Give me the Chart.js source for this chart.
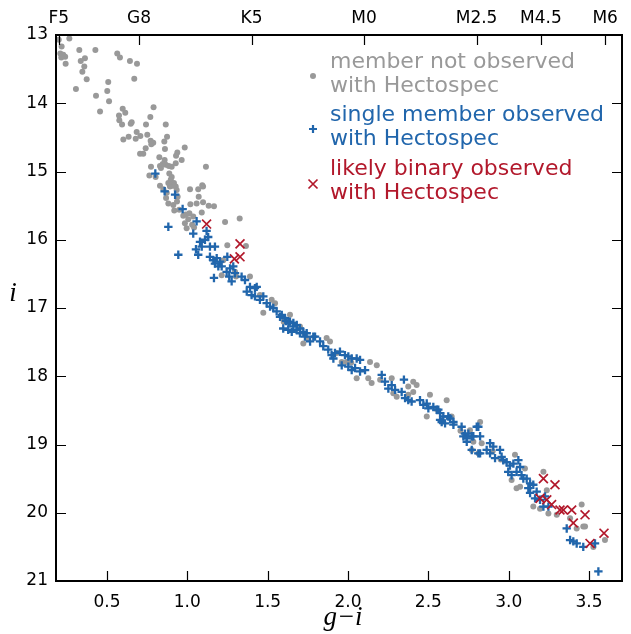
<!DOCTYPE html>
<html lang="en">
  <head>
    <meta charset="UTF-8" />
    <title>Colour-magnitude diagram</title>
    <script src="https://cdn.jsdelivr.net/npm/chart.js"></script>
    <style>
      body { margin: 0; background: #fff; }
      #wrap { width: 631px; height: 634px; }
    </style>
  </head>
  <body>
    <div id="wrap">
      <canvas id="cmd" width="631" height="634"></canvas>
    </div>
  </body>
</html>
<script>
  // axis ticks
  const giTicks = [0.5, 1.0, 1.5, 2.0, 2.5, 3.0, 3.5]
  const iTicks = [13, 14, 15, 16, 17, 18, 19, 20, 21]
  const spTypes = ["F5", "G8", "K5", "M0", "M2.5", "M4.5", "M6"]
  const spGI = [0.20, 0.70, 1.40, 2.10, 2.80, 3.20, 3.60]

  // members not observed (grey dots)
  const greyGI = [0.218,0.266,0.200,0.210,0.228,0.240,0.216,0.243,0.328,0.363,0.337,0.359,0.347,0.374,0.428,0.307,0.432,0.457,
    0.564,0.581,0.643,0.687,0.670,0.508,0.502,0.513,0.790,0.598,0.614,0.575,0.577,0.594,0.654,0.648,0.770,0.743,0.866,
    0.685,0.708,0.679,0.635,0.602,0.751,0.772,0.788,0.776,0.874,0.857,0.861,0.706,0.726,0.741,0.984,0.938,0.930,0.965,
    0.928,0.826,0.859,0.847,0.866,0.885,0.830,0.903,0.774,0.764,0.803,0.836,1.116,0.888,0.903,0.897,0.917,0.907,0.928,
    0.934,0.892,0.882,0.830,0.851,0.872,0.868,0.882,0.913,0.936,0.940,0.919,0.950,1.017,1.068,1.093,1.098,1.019,1.071,
    1.058,1.098,1.133,1.166,0.990,1.013,1.006,1.037,1.090,0.975,1.235,1.326,0.985,1.030,1.042,0.996,1.249,1.365,1.214,
    1.303,1.224,1.297,1.390,1.452,1.525,1.473,1.546,1.867,1.639,1.701,1.722,1.888,1.961,1.992,2.137,2.179,2.054,2.126,
    2.147,2.272,2.375,2.406,2.427,2.406,2.375,2.282,2.303,2.510,2.614,2.490,2.759,2.780,2.822,2.645,2.832,2.770,2.811,
    3.039,3.101,3.018,3.049,3.071,3.216,3.237,3.153,3.195,3.247,3.299,3.454,3.464,3.475,3.382,3.423,3.527,3.599,
    1.600,1.750,1.930,2.020,2.200,2.550,2.700,2.900,2.950]
  const greyI = [13.17,13.05,13.07,13.27,13.29,13.32,13.33,13.42,13.22,13.34,13.38,13.46,13.54,13.65,13.22,13.79,13.89,14.12,
    13.27,13.33,13.38,13.42,13.64,13.69,13.82,13.97,14.06,14.08,14.14,14.18,14.25,14.31,14.28,14.30,14.20,14.31,14.31,
    14.42,14.48,14.52,14.49,14.53,14.46,14.55,14.58,14.60,14.49,14.56,14.67,14.74,14.74,14.66,14.65,14.72,14.77,14.83,
    14.88,14.79,14.83,14.89,14.90,14.92,14.92,14.93,14.93,15.06,15.08,14.95,14.93,15.03,15.08,15.12,15.17,15.21,15.22,
    15.27,15.22,15.17,15.21,15.26,15.31,15.39,15.47,15.49,15.44,15.37,15.57,15.56,15.26,15.26,15.20,15.22,15.48,15.37,
    15.47,15.45,15.50,15.51,15.63,15.61,15.70,15.66,15.60,15.65,15.74,15.69,15.76,15.78,15.82,15.83,16.08,16.09,16.52,
    16.54,16.30,16.47,16.54,16.81,16.88,17.07,16.93,17.44,17.10,17.27,17.52,17.49,17.79,17.79,17.79,17.84,18.03,18.03,
    18.10,18.03,18.15,18.08,18.13,18.23,18.27,18.25,18.30,18.27,18.35,18.59,18.79,18.96,18.67,18.59,18.98,19.08,19.13,
    19.15,19.35,19.52,19.64,19.62,19.40,19.67,19.91,19.94,20.01,20.03,19.88,20.20,20.20,20.08,20.23,20.50,20.40,
    17.20,17.45,17.66,17.80,18.05,18.48,18.80,19.10,19.22]

  // single members observed (blue plus)
  const singleGI = [0.801,0.859,0.924,0.971,1.058,0.882,1.037,1.120,1.130,1.110,1.079,1.054,0.944,1.068,1.090,1.141,1.172,
    1.141,1.162,1.183,1.204,1.172,1.193,1.214,1.249,1.266,1.245,1.286,1.166,1.261,1.297,1.276,1.338,1.359,1.390,1.421,
    1.432,1.370,1.400,1.421,1.452,1.473,1.494,1.515,1.535,1.556,1.577,1.608,1.639,1.660,1.681,1.701,1.722,1.743,1.784,
    1.597,1.628,1.588,1.615,1.629,1.660,1.681,1.650,1.701,1.732,1.764,1.795,1.826,1.846,1.877,1.898,1.919,1.950,1.981,
    2.002,2.023,2.054,2.075,1.909,1.961,2.002,2.023,2.044,2.106,2.075,2.210,2.230,2.251,2.272,2.293,2.334,2.355,2.375,
    2.396,2.348,2.448,2.469,2.490,2.500,2.531,2.552,2.573,2.593,2.583,2.635,2.656,2.707,2.728,2.739,2.770,2.801,2.770,
    2.811,2.562,2.604,2.624,2.573,2.656,2.718,2.749,2.780,2.739,2.822,2.811,2.822,2.863,2.884,2.904,2.884,2.915,2.946,
    2.956,2.966,2.987,3.008,3.029,3.060,3.071,2.997,3.018,3.049,3.080,3.091,3.112,3.133,3.122,3.153,3.133,3.174,3.164,
    3.195,3.226,3.216,3.247,3.361,3.382,3.402,3.423,3.464,3.537,3.558]
  const singleI = [15.03,15.29,15.34,15.55,15.73,15.81,15.91,15.87,15.96,16.00,16.03,16.14,16.22,16.22,16.10,16.10,16.10,
    16.25,16.30,16.27,16.32,16.35,16.39,16.39,16.25,16.42,16.47,16.39,16.56,16.54,16.49,16.61,16.54,16.59,16.69,16.71,
    16.69,16.76,16.81,16.83,16.88,16.83,16.93,16.98,17.00,17.05,17.13,17.15,17.20,17.22,17.25,17.30,17.35,17.37,17.42,
    17.30,17.32,17.10,17.19,17.22,17.27,17.32,17.35,17.37,17.42,17.49,17.42,17.49,17.56,17.61,17.69,17.66,17.64,17.69,
    17.71,17.74,17.74,17.76,17.74,17.84,17.86,17.91,17.88,17.91,17.93,17.98,18.08,18.18,18.13,18.20,18.23,18.32,18.35,
    18.37,18.05,18.35,18.42,18.40,18.47,18.45,18.49,18.54,18.59,18.67,18.62,18.67,18.74,18.84,18.91,18.88,18.74,19.08,
    19.13,18.49,18.69,18.59,18.64,18.71,18.88,18.84,18.88,18.96,18.88,18.74,19.13,19.08,18.98,19.03,19.13,19.20,19.08,
    19.18,19.23,19.26,19.31,19.28,19.23,19.33,19.40,19.45,19.40,19.45,19.50,19.50,19.57,19.64,19.59,19.71,19.69,19.79,
    19.81,19.76,19.91,19.91,20.23,20.40,20.42,20.45,20.50,20.45,20.86]

  // likely binaries (red x)
  const binaryGI = [1.120,1.328,1.328,1.293,3.216,3.288,3.195,3.237,3.267,3.319,3.340,3.392,3.402,3.475,3.506,3.593]
  const binaryI = [15.77,16.06,16.25,16.28,19.50,19.59,19.79,19.81,19.88,19.96,19.96,19.96,20.15,20.03,20.45,20.30]

  const cinza = "#999999"
  const azul = "#2166ac"
  const vermelho = "#b2182b"
  const fonte = "'DejaVu Sans', sans-serif"

  function pares(xs, ys) {
    return xs.map((x, k) => ({ x: x, y: ys[k] }))
  }

  // frame + inward ticks, like matplotlib
  const moldura = {
    id: "moldura",
    afterDraw(chart) {
      const ctx = chart.ctx
      const a = chart.chartArea
      const sx = chart.scales.x
      const sy = chart.scales.y
      ctx.save()
      ctx.strokeStyle = "#000"
      ctx.lineWidth = 1.2
      ctx.beginPath()
      giTicks.forEach((v) => {
        const p = Math.round(sx.getPixelForValue(v)) + 0.5
        ctx.moveTo(p, a.bottom); ctx.lineTo(p, a.bottom - 10)
      })
      spGI.forEach((v) => {
        const p = Math.round(sx.getPixelForValue(v)) + 0.5
        ctx.moveTo(p, a.top); ctx.lineTo(p, a.top + 10)
      })
      iTicks.forEach((v) => {
        const p = Math.round(sy.getPixelForValue(v)) + 0.5
        ctx.moveTo(a.left, p); ctx.lineTo(a.left + 10, p)
        ctx.moveTo(a.right, p); ctx.lineTo(a.right - 10, p)
      })
      ctx.stroke()
      ctx.lineWidth = 2
      ctx.strokeRect(a.left, a.top, a.right - a.left, a.bottom - a.top)

      // axis labels
      ctx.fillStyle = "#000"
      ctx.font = "italic 27px 'Liberation Serif', serif"
      ctx.textAlign = "center"
      ctx.textBaseline = "alphabetic"
      ctx.fillText("g\u2212i", (a.left + a.right) / 2 + 4, 625)
      ctx.fillText("i", a.left - 43, (a.top + a.bottom) / 2 - 7)

      // legend
      const lx = a.left + 257
      ctx.font = "22px " + fonte
      ctx.textAlign = "left"
      const linhas = [
        ["member not observed", "with Hectospec", cinza, 68],
        ["single member observed", "with Hectospec", azul, 121],
        ["likely binary observed", "with Hectospec", vermelho, 175],
      ]
      linhas.forEach((l) => {
        ctx.fillStyle = l[2]
        ctx.fillText(l[0], lx + 17, l[3])
        ctx.fillText(l[1], lx + 17, l[3] + 24)
      })
      // legend markers
      ctx.fillStyle = cinza
      ctx.beginPath()
      ctx.arc(lx, 76, 3, 0, Math.PI * 2)
      ctx.fill()
      ctx.strokeStyle = azul
      ctx.lineWidth = 2.2
      ctx.beginPath()
      ctx.moveTo(lx - 4, 129); ctx.lineTo(lx + 4, 129)
      ctx.moveTo(lx, 125); ctx.lineTo(lx, 133)
      ctx.stroke()
      ctx.strokeStyle = vermelho
      ctx.lineWidth = 1.7
      ctx.beginPath()
      ctx.moveTo(lx - 4.5, 179.5); ctx.lineTo(lx + 4.5, 188.5)
      ctx.moveTo(lx - 4.5, 188.5); ctx.lineTo(lx + 4.5, 179.5)
      ctx.stroke()
      ctx.restore()
    },
  }

  const grafico = document.getElementById("cmd")
  let diagrama = new Chart(grafico, {
    type: "scatter",
    data: {
      datasets: [
        {
          label: "member not observed with Hectospec",
          data: pares(greyGI, greyI),
          pointStyle: "circle",
          pointRadius: 3,
          pointBorderWidth: 0,
          backgroundColor: cinza,
          borderColor: cinza,
          order: 2,
        },
        {
          label: "single member observed with Hectospec",
          data: pares(singleGI, singleI),
          pointStyle: "cross",
          pointRadius: 4.2,
          pointBorderWidth: 2.3,
          borderColor: azul,
          backgroundColor: azul,
          order: 1,
        },
        {
          label: "likely binary observed with Hectospec",
          data: pares(binaryGI, binaryI),
          pointStyle: "crossRot",
          pointRadius: 6.3,
          pointBorderWidth: 1.7,
          borderColor: vermelho,
          backgroundColor: vermelho,
          order: 0,
        },
      ],
    },
    options: {
      responsive: false,
      animation: false,
      devicePixelRatio: 1,
      layout: { padding: { top: 0, right: 9, bottom: 0, left: 0 } },
      plugins: {
        legend: { display: false },
        tooltip: { enabled: false },
      },
      scales: {
        x: {
          type: "linear",
          position: "bottom",
          min: 0.183,
          max: 3.705,
          afterBuildTicks: (s) => { s.ticks = giTicks.map((v) => ({ value: v })) },
          afterFit: (s) => { s.height = 53 },
          grid: { drawOnChartArea: false, drawTicks: false },
          border: { display: false },
          ticks: {
            color: "#000",
            font: { family: fonte, size: 17 },
            padding: 11,
            maxRotation: 0,
            autoSkip: false,
            callback: (v) => Number(v).toFixed(1),
          },
        },
        x2: {
          type: "linear",
          position: "top",
          min: 0.183,
          max: 3.705,
          afterBuildTicks: (s) => { s.ticks = spGI.map((v) => ({ value: v })) },
          afterFit: (s) => { s.height = 35 },
          grid: { drawOnChartArea: false, drawTicks: false },
          border: { display: false },
          ticks: {
            color: "#000",
            font: { family: fonte, size: 17 },
            padding: 6,
            maxRotation: 0,
            autoSkip: false,
            callback: (v, idx) => spTypes[idx],
          },
        },
        y: {
          type: "linear",
          position: "left",
          reverse: true,
          min: 13,
          max: 21,
          afterBuildTicks: (s) => { s.ticks = iTicks.map((v) => ({ value: v })) },
          afterFit: (s) => { s.width = 56 },
          grid: { drawOnChartArea: false, drawTicks: false },
          border: { display: false },
          ticks: {
            color: "#000",
            font: { family: fonte, size: 17 },
            padding: 8,
            autoSkip: false,
          },
        },
      },
    },
    plugins: [moldura],
  })
</script>
